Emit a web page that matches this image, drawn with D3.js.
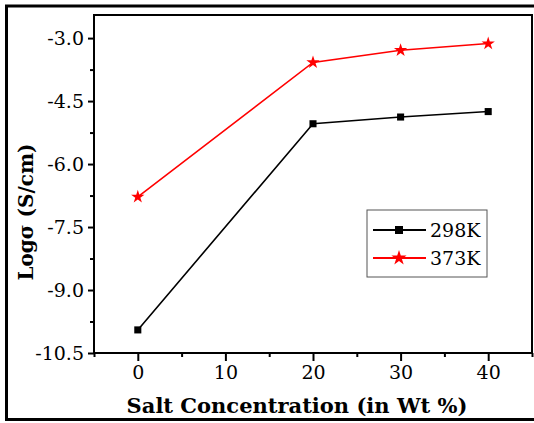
<!DOCTYPE html>
<html>
<head>
<meta charset="utf-8">
<script src="https://cdn.jsdelivr.net/npm/d3@7"></script>
<style>
  body { margin: 0; background: #fff; }
</style>
</head>
<body>
<div id="chart"></div>
<script>
// Salt concentration (wt %)
const saltConc = [0, 20, 30, 40];
// log conductivity at each temperature
const logSigma298 = [-9.95, -5.04, -4.88, -4.75];
const logSigma373 = [-6.78, -3.58, -3.29, -3.13];
const seriesNames = ["298K", "373K"];
const xTicks = [0, 10, 20, 30, 40];
const xMinorTicks = [-5, 5, 15, 25, 35, 45];
const yTicks = [-10.5, -9.0, -7.5, -6.0, -4.5, -3.0];
const yMinorTicks = [-9.75, -8.25, -6.75, -5.25, -3.75];

const W = 534, H = 423;
const margin = { top: 15, right: 2, bottom: 70, left: 94 };
const width = W - margin.left - margin.right;
const height = H - margin.top - margin.bottom;
const serif = "DejaVu Serif";

const svg = d3.select("#chart").append("svg")
  .attr("width", W)
  .attr("height", H)
  .style("font-family", serif);

// outer frame of the picture
svg.append("rect")
  .attr("x", 6.5).attr("y", 6)
  .attr("width", 540).attr("height", 413.5)
  .attr("fill", "none")
  .attr("stroke", "#000")
  .attr("stroke-width", 3);

const g = svg.append("g")
  .attr("transform", "translate(" + margin.left + "," + margin.top + ")");

const x = d3.scaleLinear().domain([-5, 45]).range([0, width]);
const y = d3.scaleLinear().domain([-10.5, -2.45]).range([height, 0]);

// plot box
g.append("rect")
  .attr("width", width).attr("height", height)
  .attr("fill", "none")
  .attr("stroke", "#000")
  .attr("stroke-width", 2);

// axes (plain hyphen for the minus sign, like the original)
const fmtY = d => d3.format(".1f")(d).replace("\u2212", "-");
const xAxis = d3.axisBottom(x).tickValues(xTicks).tickSize(8).tickPadding(5).tickFormat(d3.format("d"));
const xMinor = d3.axisBottom(x).tickValues(xMinorTicks).tickSize(4).tickFormat("");
const yAxis = d3.axisLeft(y).tickValues(yTicks).tickSize(6).tickPadding(4).tickFormat(fmtY);
const yMinor = d3.axisLeft(y).tickValues(yMinorTicks).tickSize(4).tickFormat("");

function styleAxis(sel) {
  sel.attr("font-family", null);
  sel.select(".domain").remove();
  sel.selectAll("line").attr("stroke", "#000").attr("stroke-width", 2);
  sel.selectAll("text").style("font-size", "19px").style("font-family", serif);
}

g.append("g").attr("transform", "translate(0," + height + ")").call(xAxis).call(styleAxis);
g.append("g").attr("transform", "translate(0," + height + ")").call(xMinor).call(styleAxis);
g.append("g").call(yAxis).call(styleAxis);
g.append("g").call(yMinor).call(styleAxis);

// axis titles
svg.append("text")
  .attr("x", 297).attr("y", 413)
  .attr("text-anchor", "middle")
  .style("font-family", serif)
  .style("font-size", "21px")
  .style("font-weight", "bold")
  .text("Salt Concentration (in Wt %)");

svg.append("text")
  .attr("transform", "translate(33,212) rotate(-90)")
  .attr("text-anchor", "middle")
  .style("font-family", serif)
  .style("font-size", "20px")
  .style("font-weight", "bold")
  .text("Logσ (S/cm)");

// series
const series = [
  { name: seriesNames[0], values: logSigma298, color: "#000", symbol: d3.symbolSquare, size: 50 },
  { name: seriesNames[1], values: logSigma373, color: "#ff0000", symbol: d3.symbolStar, size: 55 }
];

const line = d3.line()
  .x((d, i) => x(saltConc[i]))
  .y(d => y(d));

series.forEach(s => {
  g.append("path")
    .datum(s.values)
    .attr("fill", "none")
    .attr("stroke", s.color)
    .attr("stroke-width", 1.6)
    .attr("d", line);

  g.selectAll(null)
    .data(s.values)
    .enter().append("path")
    .attr("transform", (d, i) => "translate(" + x(saltConc[i]) + "," + y(d) + ")")
    .attr("d", d3.symbol().type(s.symbol).size(s.size))
    .attr("fill", s.color);
});

// legend
const legend = svg.append("g").attr("transform", "translate(367,210)");
legend.append("rect")
  .attr("width", 120).attr("height", 67)
  .attr("fill", "#fff")
  .attr("stroke", "#555")
  .attr("stroke-width", 1);

series.forEach((s, i) => {
  const row = legend.append("g").attr("transform", "translate(0," + (20 + i * 28) + ")");
  row.append("line")
    .attr("x1", 6).attr("x2", 59)
    .attr("stroke", s.color).attr("stroke-width", 2);
  row.append("path")
    .attr("transform", "translate(32,0)")
    .attr("d", d3.symbol().type(s.symbol).size(s.size * 1.3))
    .attr("fill", s.color);
  row.append("text")
    .attr("x", 63).attr("y", 0)
    .attr("dy", "0.35em")
    .style("font-family", serif)
    .style("font-size", "19px")
    .text(s.name);
});
</script>
</body>
</html>
